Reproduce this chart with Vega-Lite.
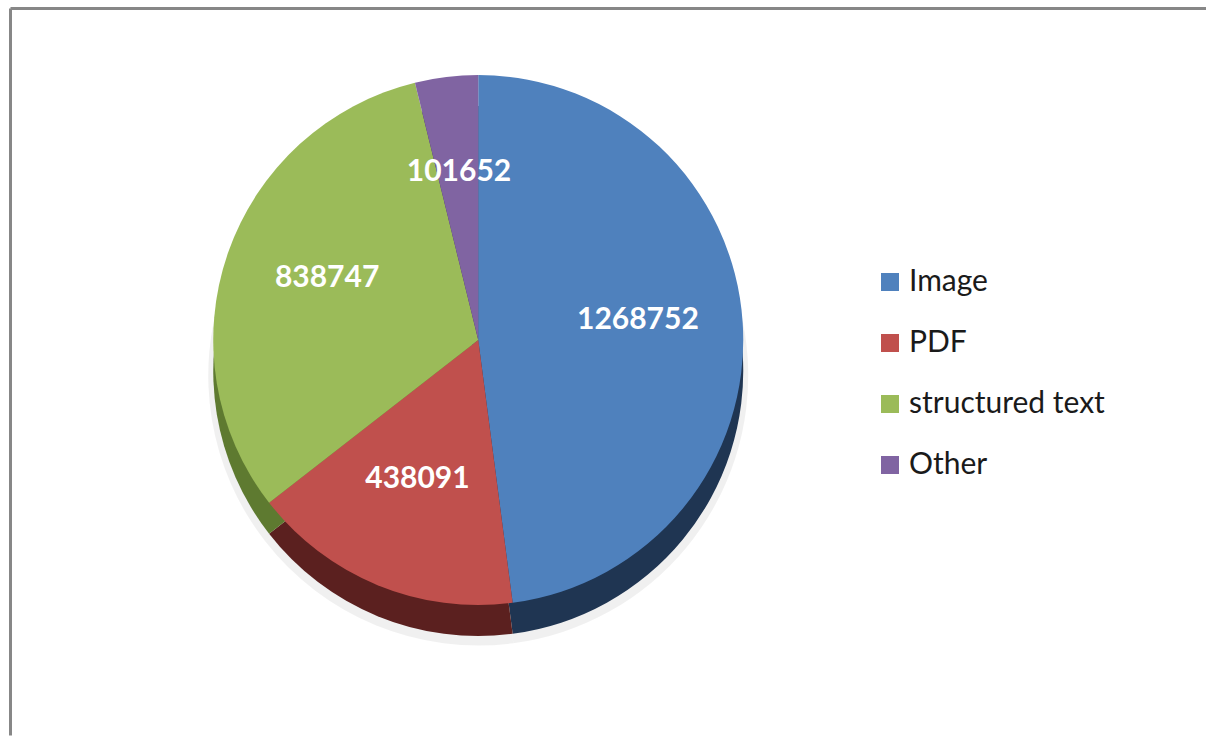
{
  "$schema": "https://vega.github.io/schema/vega-lite/v6.json",
  "width": 1195.5,
  "height": 727,
  "autosize": "none",
  "padding": {"left": 10.5, "top": 8.5, "right": 0, "bottom": 0},
  "background": "white",
  "config": {"view": {"stroke": null}},
  "data": {
    "values": [
      {"type": "Image", "count": 1268752, "k": 1},
      {"type": "PDF", "count": 438091, "k": 2},
      {"type": "structured text", "count": 838747, "k": 3},
      {"type": "Other", "count": 101652, "k": 4}
    ]
  },
  "layer": [
    {
      "data": {"values": [{"frame": "left"}]},
      "mark": {"type": "rule", "stroke": "#878787", "strokeWidth": 3},
      "encoding": {"x": {"value": 0}}
    },
    {
      "data": {"values": [{"frame": "top"}]},
      "mark": {"type": "rule", "stroke": "#878787", "strokeWidth": 3},
      "encoding": {"y": {"value": 0}}
    },
    {
      "mark": {"type": "arc", "radius": 270, "xOffset": -130, "yOffset": 3.5, "color": "#000000", "opacity": 0.06},
      "encoding": {
        "theta": {"field": "count", "type": "quantitative", "stack": true},
        "order": {"field": "k", "type": "quantitative"}
      }
    },
    {
      "mark": {"type": "arc", "radius": 265, "xOffset": -130, "yOffset": -1},
      "encoding": {
        "theta": {"field": "count", "type": "quantitative", "stack": true},
        "order": {"field": "k", "type": "quantitative"},
        "color": {
          "field": "type",
          "type": "nominal",
          "scale": {"domain": ["Image", "PDF", "structured text", "Other"], "range": ["#1F3552", "#5B201F", "#5E7A30", "#3D2E52"]},
          "legend": null
        }
      }
    },
    {
      "mark": {"type": "arc", "radius": 265, "xOffset": -130, "yOffset": -32},
      "encoding": {
        "theta": {"field": "count", "type": "quantitative", "stack": true},
        "order": {"field": "k", "type": "quantitative"},
        "color": {
          "field": "type",
          "type": "nominal",
          "scale": {"domain": ["Image", "PDF", "structured text", "Other"], "range": ["#4F81BD", "#C0504D", "#9BBB59", "#8064A2"]},
          "legend": {
            "title": null,
            "orient": "none",
            "legendX": 864.5,
            "legendY": 258.5,
            "padding": 0,
            "symbolType": "square",
            "symbolSize": 324,
            "symbolStrokeWidth": 0,
            "labelFont": "Lato",
            "labelFontSize": 30,
            "labelColor": "#1a1a1a",
            "labelOffset": 4,
            "labelLimit": 400,
            "rowPadding": 31
          }
        }
      }
    },
    {
      "mark": {"type": "text", "radius": 160, "xOffset": -130, "yOffset": -41.5, "font": "Lato", "fontWeight": "bold", "fontSize": 30, "fill": "white"},
      "encoding": {
        "theta": {"field": "count", "type": "quantitative", "stack": true},
        "order": {"field": "k", "type": "quantitative"},
        "text": {"field": "count", "type": "quantitative", "format": "d"}
      }
    }
  ],
  "resolve": {"scale": {"color": "independent"}}
}
